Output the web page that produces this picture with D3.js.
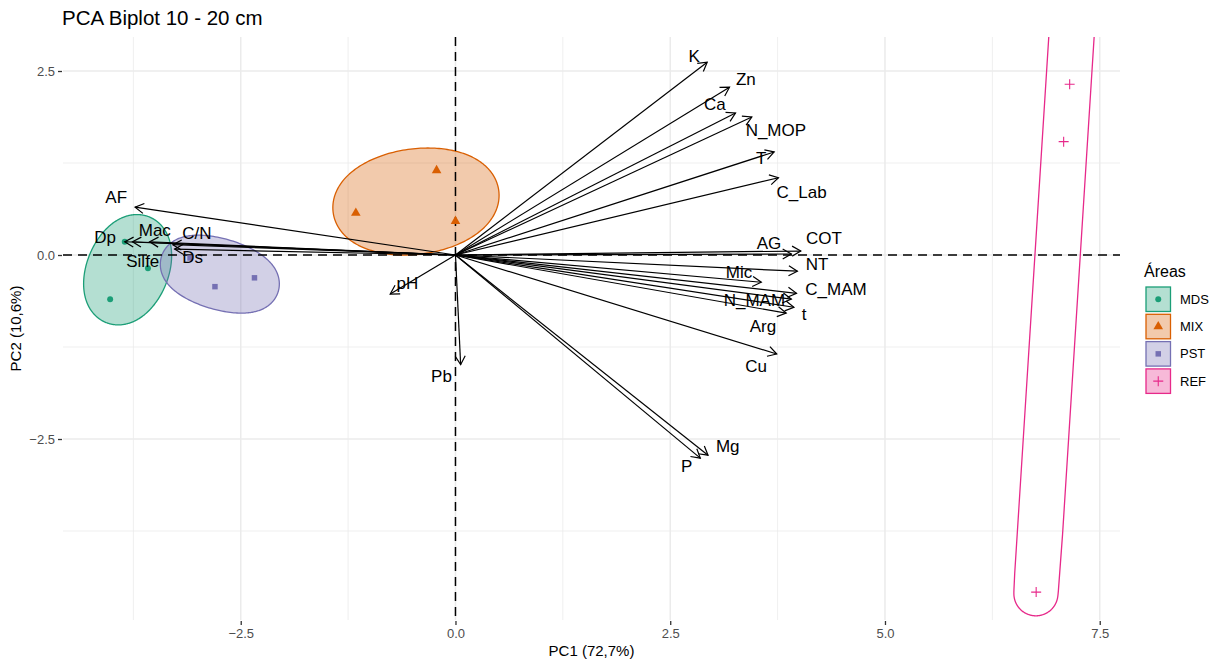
<!DOCTYPE html>
<html><head><meta charset="utf-8">
<script src="https://cdn.jsdelivr.net/npm/d3@7"></script>
<style>body{margin:0;background:#fff} text{font-family:"Liberation Sans",Arial,sans-serif}</style>
</head><body><svg id="c" width="1219" height="661"></svg>
<script>
// ---- data ----
const groups = ["MDS","MIX","PST","REF"];
const groupColors = ["#1B9E77","#D95F02","#7570B3","#E7298A"];
const indGroup = ["MDS","MDS","MDS","MIX","MIX","MIX","PST","PST","PST","REF","REF","REF"];
const indPC1 = [-3.85,-3.58,-4.02,-0.22,-1.16,0.0,-2.80,-2.34,-3.09,7.15,7.08,6.76];
const indPC2 = [0.18,-0.18,-0.60,1.15,0.57,0.46,-0.43,-0.31,-0.04,2.32,1.54,-4.58];
// variable arrows
const varNames = ["AF","Dp","Silfe","Mac","C/N","Ds","pH","Pb","K","Zn","Ca","N_MOP","T","C_Lab","COT","AG","NT","Mic","C_MAM","N_MAM","t","Arg","Cu","Mg","P"];
const varPC1 = [-3.73,-3.85,-3.76,-3.56,-3.29,-3.27,-0.76,0.06,2.93,3.19,3.26,3.45,3.71,3.76,4.02,3.91,3.98,3.56,3.97,3.91,3.94,3.85,3.74,2.94,2.85];
const varPC2 = [0.65,0.18,0.18,0.18,0.14,0.08,-0.53,-1.49,2.62,2.28,1.93,1.875,1.40,1.05,0.054,0.014,-0.22,-0.37,-0.52,-0.60,-0.71,-0.79,-1.345,-2.72,-2.76];
const labPC1 = [-3.95,-4.08,-3.64,-3.50,-3.01,-3.06,-0.56,-0.163,2.78,3.38,3.02,3.73,3.56,4.03,4.29,3.65,4.21,3.30,4.43,3.48,4.06,3.58,3.50,3.17,2.69];
const labPC2 = [0.79,0.245,-0.08,0.34,0.30,-0.027,-0.38,-1.64,2.70,2.39,2.05,1.70,1.32,0.86,0.23,0.163,-0.12,-0.23,-0.46,-0.61,-0.80,-0.965,-1.51,-2.60,-2.87];
const xTicks = [-2.5,0,2.5,5,7.5];
const xMinor = [-3.75,-1.25,1.25,3.75,6.25];
const yTicks = [2.5,0,-2.5];
const yMinor = [1.25,-1.25,-3.75];
const title = "PCA Biplot 10 - 20 cm";
const xTitle = "PC1 (72,7%)";
const yTitle = "PC2 (10,6%)";
const legendTitle = "Áreas";

// ---- layout ----
const P = {l:63, r:1120, t:37, b:620};
const x = d3.scaleLinear().domain([-4.569, 7.736]).range([P.l, P.r]);
const y = d3.scaleLinear().domain([2.962, -4.959]).range([P.t, P.b]);
const col = d3.scaleOrdinal().domain(groups).range(groupColors);
const svg = d3.select("#c");
const EXPAND = 22; // px offset of the group marks

svg.append("defs").append("clipPath").attr("id","clip")
  .append("rect").attr("x",P.l).attr("y",P.t).attr("width",P.r-P.l).attr("height",P.b-P.t);

// grid
const g = svg.append("g");
g.selectAll(".mx").data(xMinor).join("line").attr("x1",d=>x(d)).attr("x2",d=>x(d)).attr("y1",P.t).attr("y2",P.b).attr("stroke","#EBEBEB").attr("stroke-width",0.8);
g.selectAll(".my").data(yMinor).join("line").attr("y1",d=>y(d)).attr("y2",d=>y(d)).attr("x1",P.l).attr("x2",P.r).attr("stroke","#EBEBEB").attr("stroke-width",0.8);
g.selectAll(".Mx").data(xTicks).join("line").attr("x1",d=>x(d)).attr("x2",d=>x(d)).attr("y1",P.t).attr("y2",P.b).attr("stroke","#EBEBEB").attr("stroke-width",1.5);
g.selectAll(".My").data(yTicks).join("line").attr("y1",d=>y(d)).attr("y2",d=>y(d)).attr("x1",P.l).attr("x2",P.r).attr("stroke","#EBEBEB").attr("stroke-width",1.5);

// axes
const xAxis = d3.axisBottom(x).tickValues(xTicks).tickFormat(d3.format(".1f")).tickSize(4).tickPadding(4);
const yAxis = d3.axisLeft(y).tickValues(yTicks).tickFormat(d3.format(".1f")).tickSize(4).tickPadding(3);
const gx = svg.append("g").attr("transform",`translate(0,${P.b+1})`).call(xAxis);
const gy = svg.append("g").attr("transform",`translate(${P.l-1},0)`).call(yAxis);
[gx,gy].forEach(a=>{
  a.select(".domain").remove();
  a.selectAll(".tick line").attr("stroke","#333").attr("stroke-width",1.3);
  a.selectAll(".tick text").attr("fill","#4D4D4D").attr("font-size",13).attr("font-family","Liberation Sans, Arial, sans-serif");
});

// group marks: minimum enclosing ellipse of the 3 points (Steiner circumellipse), expanded outward
const plot = svg.append("g").attr("clip-path","url(#clip)");
groups.forEach(gname=>{
  const pts = indGroup.map((gg,i)=>gg===gname?[x(indPC1[i]),y(indPC2[i])]:null).filter(p=>p);
  const [A,B,C] = pts;
  const G = [(A[0]+B[0]+C[0])/3,(A[1]+B[1]+C[1])/3];
  const U = [A[0]-G[0],A[1]-G[1]];
  const V = [(C[0]-B[0])/Math.sqrt(3),(C[1]-B[1])/Math.sqrt(3)];
  // parametrise by outward normal direction: support point + offset
  const out = d3.range(0,360).map(k=>{
    const phi = 2*Math.PI*k/360, nx=Math.cos(phi), ny=Math.sin(phi);
    const t = Math.atan2(nx*V[0]+ny*V[1], nx*U[0]+ny*U[1]);
    return [G[0]+U[0]*Math.cos(t)+V[0]*Math.sin(t)+EXPAND*nx,
            G[1]+U[1]*Math.cos(t)+V[1]*Math.sin(t)+EXPAND*ny];
  });
  plot.append("path").attr("d",d3.line().curve(d3.curveLinearClosed)(out))
    .attr("fill", gname==="REF" ? "none" : col(gname)).attr("fill-opacity",0.33)
    .attr("stroke",col(gname)).attr("stroke-width",1.3);
});

// dashed reference lines
plot.append("line").attr("x1",P.l).attr("x2",P.r).attr("y1",y(0)).attr("y2",y(0)).attr("stroke","#000").attr("stroke-width",1.5).attr("stroke-dasharray","9,6");
plot.append("line").attr("x1",x(0)).attr("x2",x(0)).attr("y1",P.t).attr("y2",P.b).attr("stroke","#000").attr("stroke-width",1.5).attr("stroke-dasharray","9,6");

// points
function drawSym(sel, gname, cx, cy, c){
  if(gname==="REF"){
    const h=5;
    sel.append("path").attr("d",`M${cx-h},${cy}H${cx+h}M${cx},${cy-h}V${cy+h}`).attr("stroke",c).attr("stroke-width",1.1).attr("fill","none");
  } else {
    const type = gname==="MDS"?d3.symbolCircle:(gname==="MIX"?d3.symbolTriangle:d3.symbolSquare);
    const size = gname==="MDS"?28:(gname==="MIX"?40:30);
    sel.append("path").attr("d",d3.symbol().type(type).size(size)()).attr("transform",`translate(${cx},${cy})`).attr("fill",c);
  }
}
indGroup.forEach((gname,i)=>drawSym(plot,gname,x(indPC1[i]),y(indPC2[i]),col(gname)));

// arrows
const ag = plot.append("g");
varNames.forEach((n,i)=>{
  const x0=x(0), y0=y(0), x1=x(varPC1[i]), y1=y(varPC2[i]);
  const a = Math.atan2(y1-y0,x1-x0), L=10, w=Math.PI/6;
  ag.append("line").attr("x1",x0).attr("y1",y0).attr("x2",x1).attr("y2",y1).attr("stroke","#000").attr("stroke-width",1.2);
  ag.append("path").attr("d",`M${x1-L*Math.cos(a-w)},${y1-L*Math.sin(a-w)}L${x1},${y1}L${x1-L*Math.cos(a+w)},${y1-L*Math.sin(a+w)}`)
    .attr("stroke","#000").attr("stroke-width",1.2).attr("fill","none");
});
// labels
plot.selectAll(".vl").data(varNames).join("text").attr("x",(d,i)=>x(labPC1[i])).attr("y",(d,i)=>y(labPC2[i]))
  .attr("text-anchor","middle").attr("dy","0.35em").attr("font-size",17).attr("fill","#000").text(d=>d);

// titles
svg.append("text").attr("x",P.l-1).attr("y",25).attr("font-size",20.5).attr("fill","#000").text(title);
svg.append("text").attr("x",(P.l+P.r)/2).attr("y",656).attr("text-anchor","middle").attr("font-size",15).attr("fill","#000").text(xTitle);
svg.append("text").attr("transform",`translate(21,${(P.t+P.b)/2}) rotate(-90)`).attr("text-anchor","middle").attr("font-size",15).attr("fill","#000").text(yTitle);

// legend
const lg = svg.append("g");
lg.append("text").attr("x",1144).attr("y",277).attr("font-size",16).attr("fill","#000").text(legendTitle);
groups.forEach((gname,i)=>{
  const ty = 287 + i*27.3;
  lg.append("rect").attr("x",1146).attr("y",ty).attr("width",24.5).attr("height",24.5)
    .attr("fill",col(gname)).attr("fill-opacity",0.33).attr("stroke",col(gname)).attr("stroke-width",1.3);
  drawSym(lg,gname,1158.25,ty+12.25,col(gname));
  lg.append("text").attr("x",1180).attr("y",ty+12.25).attr("dy","0.35em").attr("font-size",13).attr("fill","#000").text(gname);
});
</script></body></html>
